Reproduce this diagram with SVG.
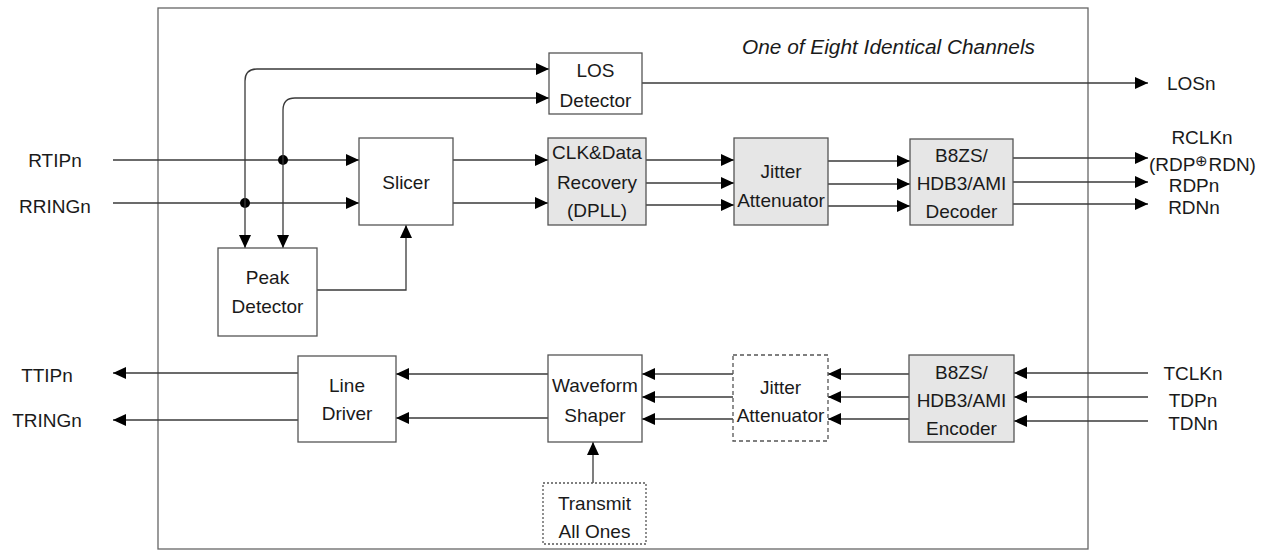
<svg xmlns="http://www.w3.org/2000/svg" width="1265" height="550" viewBox="0 0 1265 550">
<style>
  .box { fill: #ffffff; stroke: #555555; stroke-width: 1.3; }
  .grey { fill: #e6e6e6; }
  .dash { stroke-dasharray: 4 3; }
  .dot { stroke-dasharray: 2 2; }
  .lbl { font-family: "Liberation Sans", Arial, sans-serif; font-size: 19px; fill: #1a1a1a; text-anchor: middle; }
  .pin { font-family: "Liberation Sans", Arial, sans-serif; font-size: 19px; fill: #1a1a1a; }
  .title { font-family: "Liberation Sans", Arial, sans-serif; font-size: 20px; font-style: italic; fill: #1a1a1a; }
  .wire { fill: none; stroke: #3a3a3a; stroke-width: 1.3; marker-end: url(#arr); }
</style>
<defs>
  <marker id="arr" markerUnits="userSpaceOnUse" markerWidth="14" markerHeight="12" refX="13" refY="6" orient="auto" viewBox="0 0 14 12">
    <path d="M0,0 L13,6 L0,12 z" fill="#000000"/>
  </marker>
</defs>
<rect x="0" y="0" width="1265" height="550" fill="#ffffff"/>
<rect id="frame" x="158" y="8" width="930" height="541" fill="none" stroke="#666666" stroke-width="1.3"/>
<text class="title" x="742" y="54" textLength="293" lengthAdjust="spacingAndGlyphs">One of Eight Identical Channels</text>

<g id="connectors">
  <path class="wire" d="M113,160 H359"/>
  <path class="wire" d="M113,203 H359"/>
  <circle cx="283" cy="160" r="5" fill="#000"/>
  <circle cx="245" cy="203" r="5" fill="#000"/>
  <path class="wire" d="M245,203 V81 Q245,69 257,69 H549"/>
  <path class="wire" d="M245,203 V248"/>
  <path class="wire" d="M283,160 V110 Q283,98 295,98 H549"/>
  <path class="wire" d="M283,160 V248"/>
  <path class="wire" d="M317,290 H406 V225"/>
  <path class="wire" d="M453,160 H548"/>
  <path class="wire" d="M453,203 H548"/>
  <path class="wire" d="M646,160 H734"/>
  <path class="wire" d="M646,183 H734"/>
  <path class="wire" d="M646,205 H734"/>
  <path class="wire" d="M828,161 H910"/>
  <path class="wire" d="M828,184 H910"/>
  <path class="wire" d="M828,206 H910"/>
  <path class="wire" d="M1013,158 H1148"/>
  <path class="wire" d="M1013,182 H1148"/>
  <path class="wire" d="M1013,204 H1148"/>
  <path class="wire" d="M642,83 H1148"/>
  <path class="wire" d="M1148,373 H1014"/>
  <path class="wire" d="M1148,397 H1014"/>
  <path class="wire" d="M1148,421 H1014"/>
  <path class="wire" d="M909,374 H828"/>
  <path class="wire" d="M909,397 H828"/>
  <path class="wire" d="M909,419 H828"/>
  <path class="wire" d="M733,374 H642"/>
  <path class="wire" d="M733,397 H642"/>
  <path class="wire" d="M733,419 H642"/>
  <path class="wire" d="M548,374 H396"/>
  <path class="wire" d="M548,418 H396"/>
  <path class="wire" d="M298,373 H113"/>
  <path class="wire" d="M298,420 H113"/>
  <path class="wire" d="M593,483 V442"/>
</g>

<g id="los">
  <rect class="box" x="549" y="53" width="93" height="61"/>
  <text class="lbl" x="595.5" y="77">LOS</text>
  <text class="lbl" x="595.5" y="107">Detector</text>
</g>
<g id="slicer">
  <rect class="box" x="359" y="138" width="94" height="87"/>
  <text class="lbl" x="406" y="189">Slicer</text>
</g>
<g id="peak">
  <rect class="box" x="218" y="248" width="99" height="88"/>
  <text class="lbl" x="267.5" y="284">Peak</text>
  <text class="lbl" x="267.5" y="313">Detector</text>
</g>
<g id="clk">
  <rect class="box grey" x="548" y="138" width="98" height="87"/>
  <text class="lbl" x="597" y="159">CLK&amp;Data</text>
  <text class="lbl" x="597" y="189">Recovery</text>
  <text class="lbl" x="597" y="217">(DPLL)</text>
</g>
<g id="jitter-rx">
  <rect class="box grey" x="734" y="138" width="94" height="87"/>
  <text class="lbl" x="781" y="178">Jitter</text>
  <text class="lbl" x="781" y="207">Attenuator</text>
</g>
<g id="decoder">
  <rect class="box grey" x="910" y="139" width="103" height="86"/>
  <text class="lbl" x="961.5" y="162">B8ZS/</text>
  <text class="lbl" x="961.5" y="190">HDB3/AMI</text>
  <text class="lbl" x="961.5" y="218">Decoder</text>
</g>
<g id="line-driver">
  <rect class="box" x="298" y="356" width="98" height="86"/>
  <text class="lbl" x="347" y="392">Line</text>
  <text class="lbl" x="347" y="420">Driver</text>
</g>
<g id="waveform">
  <rect class="box" x="548" y="355" width="94" height="87"/>
  <text class="lbl" x="595" y="392">Waveform</text>
  <text class="lbl" x="595" y="422">Shaper</text>
</g>
<g id="jitter-tx">
  <rect class="box dash" x="733" y="355" width="95" height="86"/>
  <text class="lbl" x="780.5" y="394">Jitter</text>
  <text class="lbl" x="780.5" y="422">Attenuator</text>
</g>
<g id="encoder">
  <rect class="box grey" x="909" y="355" width="105" height="87"/>
  <text class="lbl" x="961.5" y="379">B8ZS/</text>
  <text class="lbl" x="961.5" y="407">HDB3/AMI</text>
  <text class="lbl" x="961.5" y="435">Encoder</text>
</g>
<g id="transmit">
  <rect class="box dot" x="543" y="483" width="103" height="61"/>
  <text class="lbl" x="594.5" y="510">Transmit</text>
  <text class="lbl" x="594.5" y="538">All Ones</text>
</g>

<g id="pins">
  <text class="lbl" x="55" y="167">RTIPn</text>
  <text class="lbl" x="55" y="213">RRINGn</text>
  <text class="lbl" x="47" y="382">TTIPn</text>
  <text class="lbl" x="47" y="427">TRINGn</text>
  <text class="pin" x="1167" y="90">LOSn</text>
  <text class="lbl" x="1202" y="144">RCLKn</text>
  <text class="pin" x="1149" y="171">(RDP<tspan font-size="15" dy="-5">⊕</tspan><tspan dy="5">RDN)</tspan></text>
  <text class="lbl" x="1194" y="192">RDPn</text>
  <text class="lbl" x="1194" y="214">RDNn</text>
  <text class="lbl" x="1193" y="380">TCLKn</text>
  <text class="lbl" x="1193" y="407">TDPn</text>
  <text class="lbl" x="1193" y="430">TDNn</text>
</g>
</svg>
